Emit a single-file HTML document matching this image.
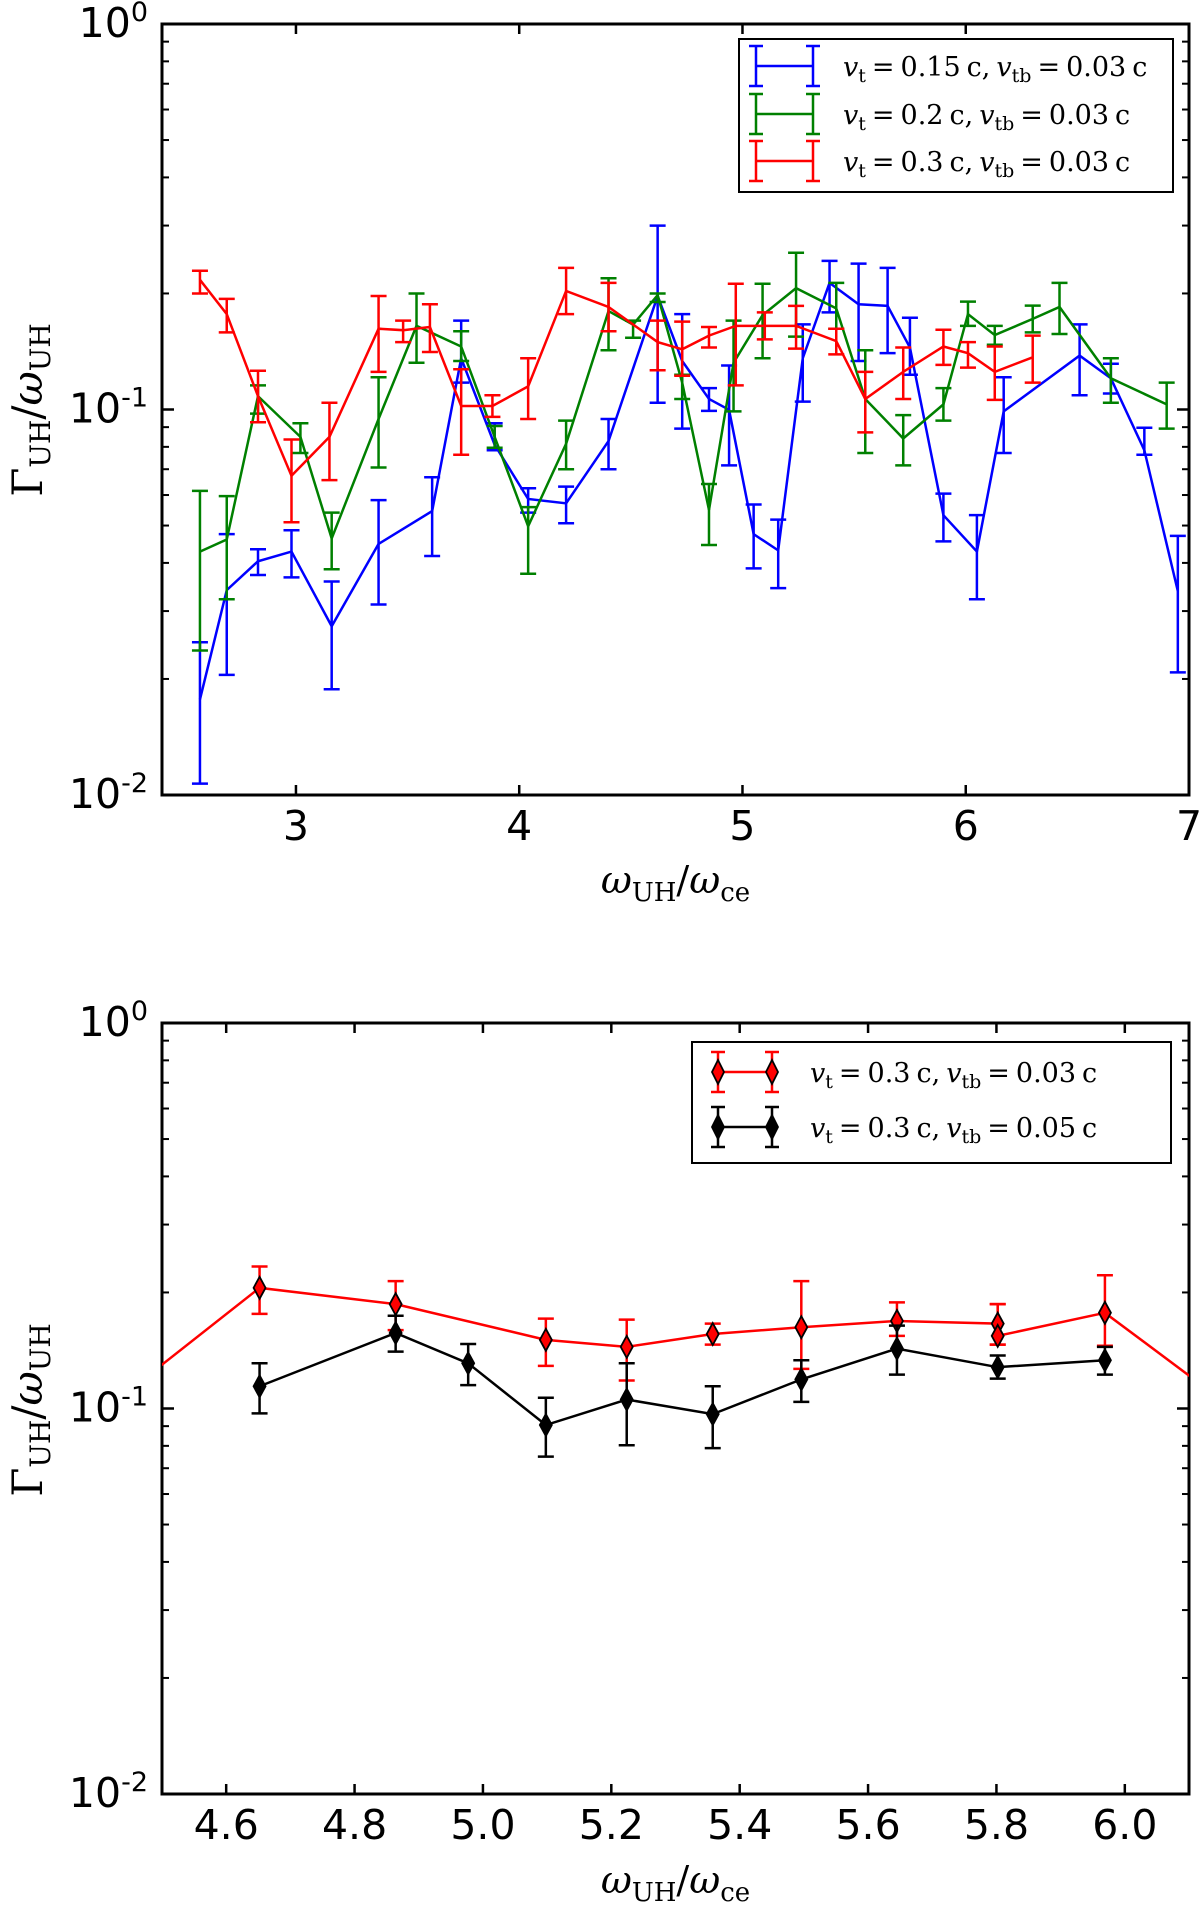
<!DOCTYPE html>
<html><head><meta charset="utf-8"><style>
html,body{margin:0;padding:0;background:#fff;}
svg{display:block;}
.tick{font-family:"DejaVu Sans","Liberation Sans",sans-serif;font-size:41px;fill:#000;}
.math{font-family:"DejaVu Serif","Liberation Serif",serif;fill:#000;}
</style></head><body>
<svg id="fig" width="1200" height="1906" viewBox="0 0 1200 1906" xmlns="http://www.w3.org/2000/svg">
<defs>
<clipPath id="clipTop"><rect x="162" y="24" width="1027" height="771"/></clipPath>
<clipPath id="clipBot"><rect x="162" y="1023" width="1027" height="771"/></clipPath>
</defs>
<g id="top"></g>
<g id="bot"></g>
</svg>
<script>
// ---- Top chart data ----
const blueX=[2.57,2.69,2.83,2.98,3.16,3.37,3.61,3.74,3.89,4.04,4.21,4.40,4.62,4.73,4.85,4.94,5.05,5.16,5.27,5.39,5.52,5.65,5.75,5.90,6.05,6.17,6.51,6.65,6.80,6.95];
const blueY=[0.0177,0.034,0.0404,0.0428,0.0274,0.0448,0.0545,0.1358,0.081,0.0586,0.0571,0.0828,0.197,0.1336,0.1065,0.0998,0.0475,0.0431,0.1358,0.213,0.1875,0.1857,0.1448,0.0532,0.0428,0.0989,0.138,0.1205,0.0784,0.0338];
const blueHi=[0.0249,0.0475,0.0434,0.0486,0.0358,0.0582,0.0667,0.170,0.0921,0.0625,0.0631,0.0945,0.30,0.1768,0.1136,0.1301,0.0567,0.0518,0.1663,0.243,0.239,0.233,0.173,0.0605,0.0532,0.1212,0.1663,0.1314,0.0897,0.047];
const blueLo=[0.0107,0.0205,0.0372,0.0367,0.0188,0.0312,0.0417,0.1174,0.0784,0.054,0.0507,0.070,0.1041,0.0892,0.0992,0.0716,0.0387,0.0344,0.1048,0.1786,0.1336,0.140,0.1231,0.0455,0.0322,0.0771,0.1089,0.110,0.0763,0.0208];
const greenX=[2.57,2.69,2.83,3.02,3.16,3.37,3.54,3.74,3.89,4.04,4.21,4.40,4.51,4.62,4.73,4.85,4.96,5.09,5.24,5.42,5.55,5.72,5.90,6.01,6.13,6.30,6.42,6.65,6.90];
const greenY=[0.0428,0.046,0.1083,0.0849,0.0463,0.0945,0.1648,0.1457,0.0849,0.0498,0.0815,0.180,0.166,0.198,0.1174,0.0549,0.1322,0.1757,0.2065,0.183,0.1065,0.0841,0.1031,0.1768,0.156,0.1718,0.1845,0.1205,0.1031];
const greenHi=[0.0615,0.0596,0.1155,0.0921,0.054,0.1212,0.200,0.1596,0.0906,0.0558,0.0936,0.219,0.170,0.20,0.1231,0.0641,0.170,0.212,0.255,0.213,0.1425,0.0967,0.1136,0.1905,0.1648,0.186,0.213,0.1358,0.1174];
const greenLo=[0.0237,0.0322,0.0976,0.0771,0.0385,0.0707,0.1322,0.1336,0.0796,0.0375,0.070,0.1425,0.1535,0.19,0.1065,0.0445,0.0989,0.1358,0.1545,0.162,0.0771,0.0716,0.0936,0.1648,0.1472,0.1585,0.157,0.1041,0.0892];
const redX=[2.57,2.69,2.83,2.98,3.15,3.37,3.48,3.60,3.74,3.88,4.04,4.21,4.40,4.62,4.73,4.85,4.97,5.10,5.24,5.42,5.55,5.72,5.90,6.01,6.13,6.30];
const redY=[0.217,0.1768,0.1083,0.0673,0.0849,0.162,0.1606,0.1637,0.1021,0.1021,0.1148,0.203,0.1845,0.1496,0.1433,0.1555,0.1648,0.1648,0.1648,0.1505,0.1065,0.1252,0.1457,0.140,0.1252,0.1366];
const redHi=[0.229,0.1936,0.126,0.0836,0.1041,0.197,0.170,0.1875,0.1272,0.1089,0.1358,0.233,0.213,0.170,0.169,0.1637,0.212,0.1786,0.1857,0.162,0.1252,0.1448,0.161,0.1496,0.1457,0.1555];
const redLo=[0.200,0.1585,0.0927,0.051,0.0656,0.1252,0.1496,0.141,0.0763,0.0957,0.0945,0.1768,0.1596,0.1264,0.1223,0.1448,0.1155,0.152,0.1438,0.139,0.0872,0.1065,0.1305,0.1284,0.1059,0.1174];
const topXTicks=[3,4,5,6,7];
// ---- Bottom chart data ----
const b03X=[4.44,4.652,4.864,5.098,5.224,5.358,5.496,5.645,5.802,5.802,5.969,6.15];
const b03Y=[0.1084,0.2056,0.1865,0.1507,0.1445,0.156,0.1625,0.1687,0.166,0.1543,0.1771,0.1055];
const b03Hi=[null,0.2335,0.214,0.1711,0.170,0.166,0.214,0.1885,0.1865,0.1865,0.2217,null];
const b03Lo=[null,0.176,0.1597,0.129,0.1182,0.1465,0.1267,0.1543,0.1465,0.1465,0.1455,null];
const b05X=[4.652,4.864,4.977,5.098,5.224,5.358,5.496,5.645,5.802,5.969];
const b05Y=[0.1142,0.157,0.131,0.0906,0.1055,0.0967,0.119,0.143,0.128,0.1334];
const b05Hi=[0.131,0.174,0.147,0.1066,0.131,0.1142,0.1334,0.1641,0.1372,0.1445];
const b05Lo=[0.0971,0.1405,0.115,0.075,0.0803,0.0789,0.104,0.1224,0.1195,0.1224];
const botXTicks=[4.6,4.8,5.0,5.2,5.4,5.6,5.8,6.0];
const yDecades=[0,-1,-2];

const NS="http://www.w3.org/2000/svg";
function mk(tag,attrs,parent){const e=document.createElementNS(NS,tag);for(const k in attrs)e.setAttribute(k,attrs[k]);parent.appendChild(e);return e;}

function axes(g,L,T,W,H,xmin,xmax,ticks,fmt,yLabelY,xLabelY,pfx){
  const xs=x=>L+(x-xmin)/(xmax-xmin)*W;
  const ys=v=>T+(-Math.log10(v))/2*H;
  const frame=mk('rect',{x:L,y:T,width:W,height:H,fill:'none',stroke:'#000','stroke-width':3},g);
  
  
  ticks.forEach(t=>{
    const X=xs(t);
    const tb=mk('line',{x1:X,x2:X,y1:T+H,y2:T+H-10,stroke:'#000','stroke-width':2.5},g);
    
    
    mk('line',{x1:X,x2:X,y1:T,y2:T+10,stroke:'#000','stroke-width':2.5},g);
    const lbl=mk('text',{x:X,y:T+H+45,'text-anchor':'middle',class:'tick'},g);
    lbl.textContent=fmt(t);
    
    
  });
  yDecades.forEach(d=>{
    const Y=ys(Math.pow(10,d));
    mk('line',{x1:L,x2:L+12,y1:Y,y2:Y,stroke:'#000','stroke-width':2.5},g);
    mk('line',{x1:L+W,x2:L+W-12,y1:Y,y2:Y,stroke:'#000','stroke-width':2.5},g);
    const t=mk('text',{x:L-14,y:Y+13,'text-anchor':'end',class:'tick'},g);
    t.innerHTML='10<tspan dy="-16" font-size="27">'+d+'</tspan>';
    
    
    if(d<0){for(let m=2;m<=9;m++){const YY=ys(m*Math.pow(10,d));
      mk('line',{x1:L,x2:L+7,y1:YY,y2:YY,stroke:'#000','stroke-width':2},g);
      mk('line',{x1:L+W,x2:L+W-7,y1:YY,y2:YY,stroke:'#000','stroke-width':2},g);}}
  });
  const yl=mk('text',{x:0,y:0,transform:'translate(42,'+yLabelY+') rotate(-90)','text-anchor':'middle',class:'math','font-size':42},g);
  yl.innerHTML='Γ<tspan font-size="28" dy="8">UH</tspan><tspan dy="-8">/</tspan><tspan font-style="italic">ω</tspan><tspan font-size="28" dy="8">UH</tspan>';
  
  
  const xl=mk('text',{x:L+W/2,y:xLabelY,'text-anchor':'middle',class:'math','font-size':38},g);
  xl.innerHTML='<tspan font-style="italic">ω</tspan><tspan font-size="26" dy="8">UH</tspan><tspan dy="-8">/</tspan><tspan font-style="italic">ω</tspan><tspan font-size="26" dy="8">ce</tspan>';
  
  
  return {xs,ys};
}

function series(g,clip,xs,ys,X,Y,Hi,Lo,color,name,marker,edge){
  const sg=mk('g',{'clip-path':'url(#'+clip+')'},g);
  
  
  const pts=X.map((x,i)=>xs(x)+','+ys(Y[i])).join(' ');
  mk('polyline',{points:pts,fill:'none',stroke:color,'stroke-width':2.5},sg);
  X.forEach((x,i)=>{
    if(Hi[i]==null)return;
    const px=xs(x),yh=ys(Hi[i]),yl=ys(Lo[i]);
    const eb=mk('path',{d:`M${px},${yh}V${yl}M${px-8},${yh}H${px+8}M${px-8},${yl}H${px+8}`,stroke:color,'stroke-width':2.5,fill:'none'},sg);
    
    
  });
  if(marker){X.forEach((x,i)=>{
    if(Hi[i]==null)return;
    const px=xs(x),py=ys(Y[i]);
    const m=mk('path',{d:`M${px},${py-11}L${px+6},${py}L${px},${py+11}L${px-6},${py}Z`,fill:marker,stroke:edge,'stroke-width':1.8},sg);
    
    
  });}
}

function legend(g,x,y,w,h,items,pfx){
  const lg=mk('g',{},g);
  
  
  mk('rect',{x:x,y:y,width:w,height:h,fill:'#fff',stroke:'#000','stroke-width':2},lg);
  items.forEach(it=>{
    const e=mk('g',{},lg);
    
    
    const x1=it.lx1,x2=it.lx2,yy=it.y;
    mk('line',{x1:x1,x2:x2,y1:yy,y2:yy,stroke:it.c,'stroke-width':2.5},e);
    [x1,x2].forEach(px=>{
      mk('path',{d:`M${px},${yy-20}V${yy+20}M${px-7},${yy-20}H${px+7}M${px-7},${yy+20}H${px+7}`,stroke:it.c,'stroke-width':2.5,fill:'none'},e);
      if(it.m)mk('path',{d:`M${px},${yy-12}L${px+6},${yy}L${px},${yy+12}L${px-6},${yy}Z`,fill:it.m,stroke:'#000','stroke-width':1.8},e);
    });
    const t=mk('text',{x:it.tx,y:yy+10,class:'math','font-size':27},e);
    t.innerHTML='<tspan font-style="italic">v</tspan><tspan font-size="19" dy="6">t</tspan><tspan dy="-6">=</tspan><tspan>'+it.a+'</tspan><tspan dx="6">c,</tspan><tspan dx="6" font-style="italic">v</tspan><tspan font-size="19" dy="6">tb</tspan><tspan dy="-6">=</tspan><tspan>'+it.b+'</tspan><tspan dx="6">c</tspan>';
    t.querySelectorAll('tspan').forEach((s,i)=>{ if(s.textContent==='=') s.setAttribute('dx','6'); });
    t.querySelectorAll('tspan').forEach((s,i)=>{ if(/^0\./.test(s.textContent)) s.setAttribute('dx','6'); });
  });
}

const gt=document.getElementById('top');
const A=axes(gt,162,24,1027,771,2.4,7.0,topXTicks,t=>String(t),410,893,'top');
series(gt,'clipTop',A.xs,A.ys,blueX,blueY,blueHi,blueLo,'#0000ff','series-vt-0.15');
series(gt,'clipTop',A.xs,A.ys,greenX,greenY,greenHi,greenLo,'#008000','series-vt-0.2');
series(gt,'clipTop',A.xs,A.ys,redX,redY,redHi,redLo,'#ff0000','series-vt-0.3');
legend(gt,739,39,434,153,[
 {c:'#0000ff',y:66,lx1:756,lx2:813,tx:843,a:'0.15',b:'0.03'},
 {c:'#008000',y:114,lx1:756,lx2:813,tx:843,a:'0.2',b:'0.03'},
 {c:'#ff0000',y:161,lx1:756,lx2:813,tx:843,a:'0.3',b:'0.03'}],'top');

const gb=document.getElementById('bot');
const B=axes(gb,162,1023,1027,771,4.5,6.1,botXTicks,t=>t.toFixed(1),1410,1893,'bottom');
series(gb,'clipBot',B.xs,B.ys,b03X,b03Y,b03Hi,b03Lo,'#ff0000','series-vtb-0.03','#ff0000','#000');
series(gb,'clipBot',B.xs,B.ys,b05X,b05Y,b05Hi,b05Lo,'#000000','series-vtb-0.05','#000000','#000');
legend(gb,692,1042,479,121,[
 {c:'#ff0000',m:'#ff0000',y:1072,lx1:718,lx2:772,tx:810,a:'0.3',b:'0.03'},
 {c:'#000000',m:'#000000',y:1127,lx1:718,lx2:772,tx:810,a:'0.3',b:'0.05'}],'bottom');
</script>
</body></html>
